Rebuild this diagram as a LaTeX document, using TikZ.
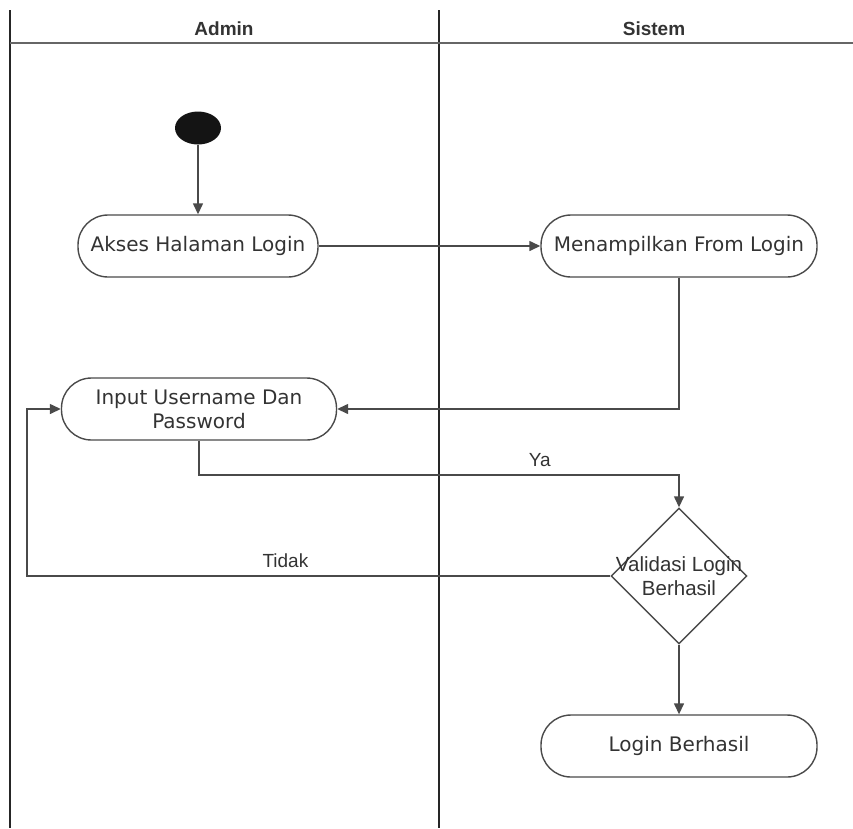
\documentclass[tikz,border=0pt]{standalone}
\usepackage{fontspec}
\setmainfont{DejaVu Sans}
\newfontfamily\lblfont{Liberation Sans}
\usetikzlibrary{arrows.meta,shapes.geometric}
\definecolor{garis}{HTML}{4A4A4A}
\definecolor{teks}{HTML}{333333}
\begin{document}
\begin{tikzpicture}
[x=1pt,y=-1pt,line width=1.4pt,%
  every node/.style={inner sep=0pt,text=teks},%
  lane/.style={draw=black!85,line width=1.3pt},%
  head/.style={font=\lblfont\bfseries\fontsize{19}{22}\selectfont},%
  act/.style={shape=rectangle,rounded corners=30pt,draw=garis,minimum width=#1,%
    minimum height=62pt,align=center,font=\fontsize{20}{24}\selectfont},%
  start/.style={shape=ellipse,fill=black!92,minimum width=46pt,minimum height=33pt},%
  dec/.style={shape=diamond,draw=garis,minimum width=136pt,minimum height=136pt},%
  lbl/.style={font=\lblfont\fontsize{19}{23}\selectfont,align=center},%
  flow/.style={draw=garis,-{Triangle[length=11pt,width=10pt]}}]
\useasboundingbox (0,0) rectangle (853,828);
% swimlanes
\draw[lane] (10,10) -- (10,828);
\draw[lane] (439,10) -- (439,828);
\draw[lane,draw=black!60,line width=2.4pt] (10,43) -- (853,43);
\node[head] (admin) at (224,29) {Admin};
\node[head] (sistem) at (654,29) {Sistem};
% activities
\node[start] (mulai) at (198,128) {};
\node[act=240pt] (akses) at (198,246) {Akses Halaman Login};
\node[act=276pt] (tampil) at (679,246) {Menampilkan From Login};
\node[act=275pt] (input) at (199,409) {Input Username Dan\\Password};
\node[dec,label={[lbl,font=\lblfont\fontsize{20.5}{24}\selectfont]center:Validasi Login\\Berhasil}] (valid) at (679,576) {};
\node[act=276pt] (sukses) at (679,746) {Login Berhasil};
\coordinate (belok) at (199,475);
\coordinate (balik) at (27,576);
% flows
\draw[flow] (mulai) -- (akses);
\draw[flow] (akses) -- (tampil);
\draw[flow] (tampil.south) |- (input.east);
\draw[flow] (input.south) -- (belok) -| node[lbl,pos=0.355,above=8pt] {Ya} (valid.north);
\draw[flow] (valid.west) -- node[lbl,pos=0.557,above=8pt] {Tidak} (balik) |- (input.west);
\draw[flow] (valid) -- (sukses);
\end{tikzpicture}
\end{document}
